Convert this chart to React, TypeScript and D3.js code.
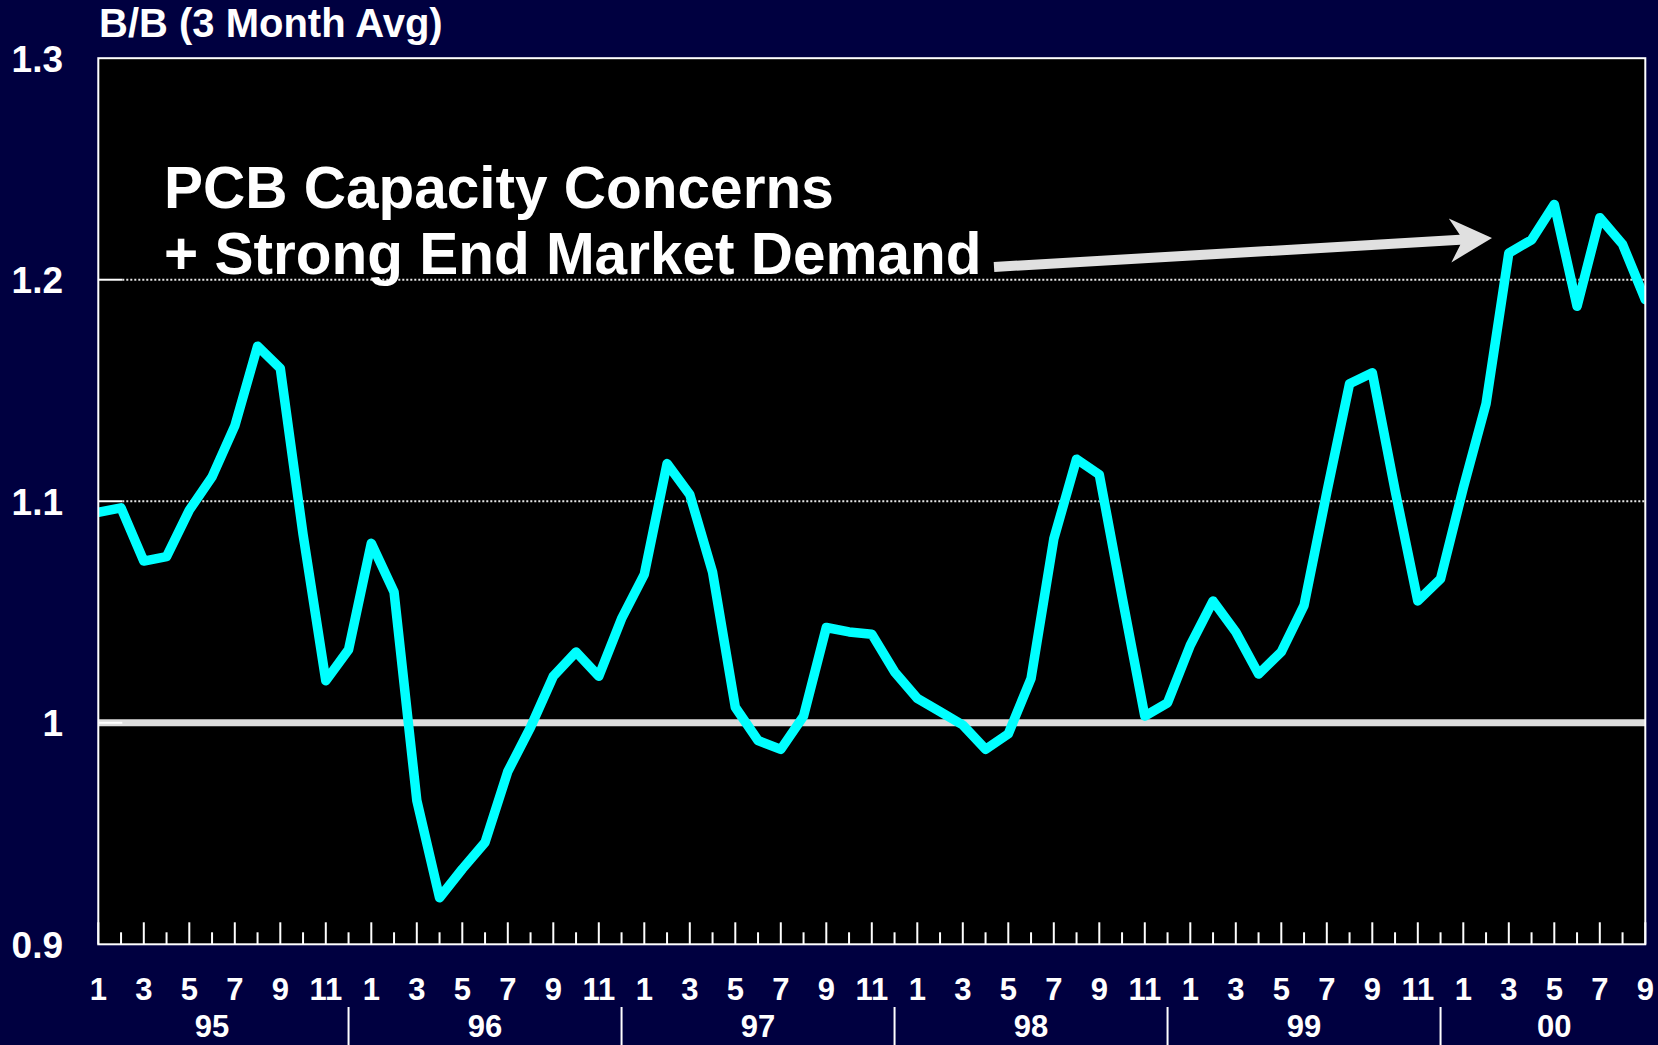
import React from "react";
import * as d3 from "d3";

const years = ["95", "96", "97", "98", "99", "00"];
const monthTickLabels = ["1", "3", "5", "7", "9", "11"];
const yTickValues = [0.9, 1.0, 1.1, 1.2, 1.3];
const yTickLabels = ["0.9", "1", "1.1", "1.2", "1.3"];
const bbValues = [
  1.095, 1.097, 1.073, 1.075, 1.096, 1.111, 1.134, 1.17, 1.16, 1.085, 1.019, 1.033,
  1.081, 1.059, 0.965, 0.921, 0.934, 0.946, 0.978, 0.998, 1.021, 1.032, 1.021, 1.047,
  1.067, 1.117, 1.103, 1.068, 1.007, 0.992, 0.988, 1.003, 1.043, 1.041, 1.04, 1.023,
  1.011, 1.005, 0.999, 0.988, 0.995, 1.02, 1.083, 1.119, 1.112, 1.057, 1.003, 1.009,
  1.035, 1.055, 1.041, 1.022, 1.032, 1.053, 1.104, 1.153, 1.158, 1.105, 1.055, 1.065,
  1.106, 1.144, 1.212, 1.218, 1.234, 1.188, 1.228, 1.216, 1.191,
];
const titleText = "B/B (3 Month Avg)";
const noteLines = ["PCB Capacity Concerns", "+ Strong End Market Demand"];

const W = 1658;
const H = 1045;
const L = 98.3, R = 1645.3, T = 58.2, B = 944.3;
const FONT = "'Liberation Sans', Arial, Helvetica, sans-serif";

export default function App() {
  const n = bbValues.length;
  const x = d3.scaleLinear().domain([0, n - 1]).range([L, R]);
  const y = d3.scaleLinear().domain([0.9, 1.3]).range([B, T]);
  const line = d3
    .line<number>()
    .x((_, i) => x(i))
    .y((d) => y(d));

  const idx = d3.range(n);
  const sepIdx = years.slice(0, -1).map((_, k) => k * 12 + 11);
  const bounds = [-1, ...sepIdx, n];

  const tail: [number, number] = [994, 267];
  const tip: [number, number] = [1492, 238];
  const dx = tip[0] - tail[0], dy = tip[1] - tail[1];
  const len = Math.hypot(dx, dy);
  const u = [dx / len, dy / len];
  const nrm = [-u[1], u[0]];
  const p = (base: [number, number], along: number, side: number) =>
    `${base[0] + u[0] * along + nrm[0] * side},${base[1] + u[1] * along + nrm[1] * side}`;
  const arrowPts = [
    p(tail, 0, -5),
    p(tip, -32, -5),
    p(tip, -42, -22),
    p(tip, 0, 0),
    p(tip, -42, 22),
    p(tip, -32, 5),
    p(tail, 0, 5),
  ].join(" ");

  return (
    <svg
      width={W}
      height={H}
      style={{ position: "absolute", left: 0, top: 0, display: "block" }}
      fontFamily={FONT}
    >
      <defs>
        <clipPath id="plotClip">
          <rect x={L} y={T} width={R - L} height={B - T} />
        </clipPath>
      </defs>
      <rect x={0} y={0} width={W} height={H} fill="#000040" />
      <rect x={L} y={T} width={R - L} height={B - T} fill="#000000" />

      {[1.1, 1.2].map((v) => (
        <line
          key={"g" + v}
          x1={L + 24}
          x2={R}
          y1={y(v)}
          y2={y(v)}
          stroke="#e6e6e6"
          strokeWidth={2}
          strokeDasharray="2 2"
        />
      ))}
      <line x1={L} x2={R} y1={y(1.0)} y2={y(1.0)} stroke="#dddddd" strokeWidth={7} />

      {[1.0, 1.1, 1.2].map((v) => (
        <line key={"yt" + v} x1={L} x2={L + 24} y1={y(v)} y2={y(v)} stroke="#ffffff" strokeWidth={2} />
      ))}

      {idx.map((i) => (
        <line
          key={"xt" + i}
          x1={x(i)}
          x2={x(i)}
          y1={B}
          y2={B - (i % 2 === 0 ? 22 : 12)}
          stroke="#ffffff"
          strokeWidth={2}
        />
      ))}

      <path
        d={line(bbValues) || ""}
        fill="none"
        stroke="#00ffff"
        strokeWidth={9.5}
        strokeLinejoin="round"
        strokeLinecap="round"
        clipPath="url(#plotClip)"
      />

      <rect x={L} y={T} width={R - L} height={B - T} fill="none" stroke="#ffffff" strokeWidth={2} />

      {noteLines.map((t, k) => (
        <text key={t} x={164} y={208 + k * 66} fill="#ffffff" fontSize={58.5} fontWeight="bold">
          {t}
        </text>
      ))}
      <polygon points={arrowPts} fill="#e0e0e0" />

      <text x={99} y={37} fill="#ffffff" fontSize={40} fontWeight="bold">
        {titleText}
      </text>

      {yTickValues.map((v, k) => (
        <text
          key={"yl" + v}
          x={63}
          y={y(v) + 13.5}
          fill="#ffffff"
          fontSize={37}
          fontWeight="bold"
          textAnchor="end"
        >
          {yTickLabels[k]}
        </text>
      ))}

      {idx
        .filter((i) => i % 2 === 0)
        .map((i) => (
          <text
            key={"ml" + i}
            x={x(i)}
            y={1000}
            fill="#ffffff"
            fontSize={31}
            fontWeight="bold"
            textAnchor="middle"
          >
            {monthTickLabels[(i % 12) / 2]}
          </text>
        ))}

      {sepIdx.map((i) => (
        <line key={"ys" + i} x1={x(i)} x2={x(i)} y1={1007} y2={H} stroke="#ffffff" strokeWidth={2} />
      ))}

      {years.map((yr, k) => (
        <text
          key={"yr" + yr}
          x={x((bounds[k] + bounds[k + 1]) / 2)}
          y={1037}
          fill="#ffffff"
          fontSize={31}
          fontWeight="bold"
          textAnchor="middle"
        >
          {yr}
        </text>
      ))}
    </svg>
  );
}
